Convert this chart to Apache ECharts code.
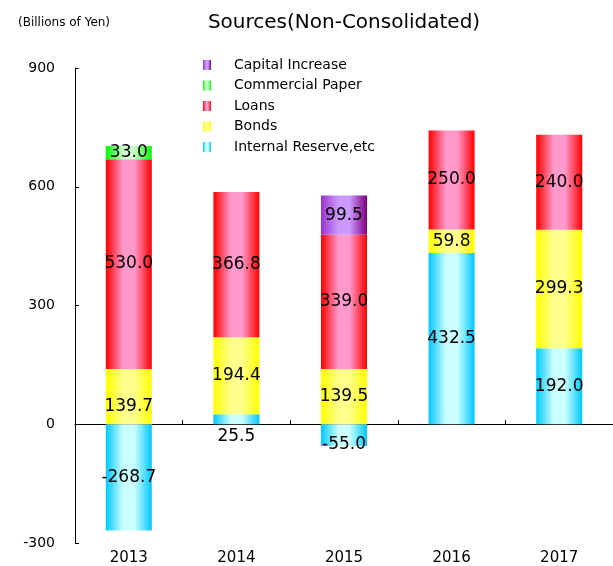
<!DOCTYPE html>
<html>
<head>
<meta charset="utf-8">
<script src="https://cdn.jsdelivr.net/npm/echarts@6/dist/echarts.min.js"></script>
<style>
  html, body { margin: 0; padding: 0; background: #fff; }
  #chart { width: 613px; height: 566px; }
</style>
</head>
<body>
<div id="chart"></div>
<script>
// 年度
var years = ['2013', '2014', '2015', '2016', '2017'];
// 各系列の値 (Billions of Yen)
var internalReserve = [-268.7, 25.5, -55.0, 432.5, 192.0];
var bonds = [139.7, 194.4, 139.5, 59.8, 299.3];
var loans = [530.0, 366.8, 339.0, 250.0, 240.0];
var commercialPaper = [33.0, null, null, null, null];
var capitalIncrease = [null, null, 99.5, null, null];
var yTicks = [-300, 0, 300, 600, 900];

var FONT = '"DejaVu Sans", sans-serif';

// 横方向のグラデーション (端 -> 中央 -> 端)
function grad(edge, mid, edge2) {
    return new echarts.graphic.LinearGradient(0, 0, 1, 0, [
        { offset: 0, color: edge },
        { offset: 0.38, color: mid },
        { offset: 0.62, color: mid },
        { offset: 1, color: edge2 || edge }
    ]);
}

var labelBase = {
    show: true,
    position: 'inside',
    color: '#000',
    fontFamily: FONT,
    fontSize: 17,
    formatter: function (p) { return p.value == null ? '' : p.value.toFixed(1); }
};

function makeSeries(name, values, color, special) {
    return {
        name: name,
        type: 'bar',
        stack: 'total',
        barWidth: 46,
        itemStyle: { color: color },
        label: labelBase,
        data: values.map(function (v, i) {
            var item = { value: v };
            if (special && special[i]) item.label = special[i];
            return item;
        })
    };
}

var chart = echarts.init(document.getElementById('chart'));
chart.setOption({
    animation: false,
    backgroundColor: '#fff',
    title: [
        {
            text: 'Sources(Non-Consolidated)',
            left: 339, top: 8, textAlign: 'center',
            textStyle: { fontFamily: FONT, fontSize: 20, fontWeight: 'normal', color: '#000' }
        },
        {
            text: '(Billions of Yen)',
            left: 13, top: 12,
            textStyle: { fontFamily: FONT, fontSize: 12, fontWeight: 'normal', color: '#000' }
        }
    ],
    legend: {
        orient: 'vertical',
        left: 198, top: 53,
        itemWidth: 8, itemHeight: 10, itemGap: 6.5,
        icon: 'rect',
        data: ['Capital Increase', 'Commercial Paper', 'Loans', 'Bonds', 'Internal Reserve,etc'],
        textStyle: { fontFamily: FONT, fontSize: 14, color: '#000', padding: [0, 0, 0, 18] }
    },
    grid: { left: 75, right: -18, top: 68, bottom: 22 },
    xAxis: [
        {
            type: 'category', data: years, position: 'bottom',
            axisLine: { show: false, onZero: false },
            axisTick: { show: false },
            axisLabel: { fontFamily: FONT, fontSize: 15, color: '#000', margin: 8 }
        },
        {
            type: 'category', data: years, position: 'top',
            axisLine: { show: true, onZero: true, lineStyle: { color: '#000', width: 1 } },
            axisTick: { show: true, inside: false, length: 4, lineStyle: { color: '#000' } },
            axisLabel: { show: false }
        }
    ],
    yAxis: {
        type: 'value', min: yTicks[0], max: yTicks[yTicks.length - 1], interval: 300,
        axisLine: { show: true, lineStyle: { color: '#000' } },
        axisTick: { show: true, inside: true, length: 4, lineStyle: { color: '#000' } },
        splitLine: { show: false },
        axisLabel: { fontFamily: FONT, fontSize: 14, color: '#000', margin: 20 }
    },
    series: [
        makeSeries('Internal Reserve,etc', internalReserve, grad('#00c8ff', '#ccffff'), {
            1: { position: 'bottom', distance: 4 },
            2: { offset: [0, 9] }
        }),
        makeSeries('Bonds', bonds, grad('#ffff00', '#ffff8c'), {
            0: { offset: [0, 10] }
        }),
        makeSeries('Loans', loans, grad('#ff0000', '#ff99cc')),
        makeSeries('Commercial Paper', commercialPaper, grad('#00ff00', '#ccffcc')),
        makeSeries('Capital Increase', capitalIncrease, grad('#9933cc', '#cc99ff', '#800080'))
    ]
});
</script>
</body>
</html>
